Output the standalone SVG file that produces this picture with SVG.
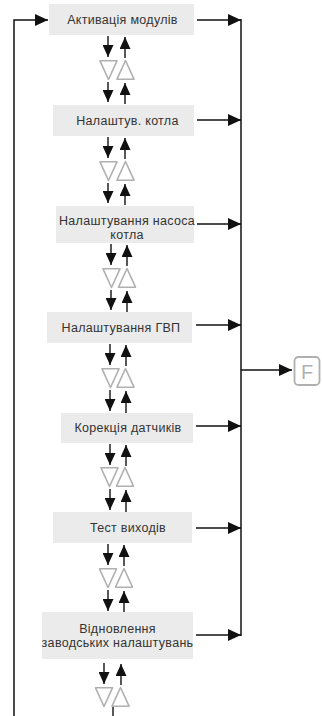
<svg xmlns="http://www.w3.org/2000/svg" width="322" height="716" viewBox="0 0 322 716">
<style>
.box{fill:#ebebeb;stroke:none}
.t{font-family:"Liberation Sans",Arial,sans-serif;font-size:12.5px;letter-spacing:0.3px;fill:#333;text-anchor:middle}
.ln{stroke:#111;stroke-width:1.5;fill:none}
.sm{stroke:#111;stroke-width:1.4;fill:none}
.tri{fill:#fff;stroke:#b0b0b0;stroke-width:1.6;stroke-linejoin:round}
.fk{fill:#fff;stroke:#b0b0b0;stroke-width:1.8}
.ft{font-family:"Liberation Sans",Arial,sans-serif;font-size:20px;fill:#b0b0b0;text-anchor:middle}
</style>
<defs>
<marker id="ab" viewBox="0 0 13 12" refX="13" refY="6" markerWidth="13" markerHeight="12" markerUnits="userSpaceOnUse" orient="auto"><path d="M0,0 L13,6 L0,12 Z" fill="#111"/></marker>
<marker id="as" viewBox="0 0 12 11" refX="12" refY="5.5" markerWidth="12" markerHeight="11" markerUnits="userSpaceOnUse" orient="auto"><path d="M0,0 L12,5.5 L0,11 Z" fill="#111"/></marker>
<path id="td" d="M-8.5,0.8 H8.5 L0,19.5 Z"/>
<path id="tu" d="M0,0.5 L8.5,19.2 H-8.5 Z"/>
</defs>

<g id="connectors">
<polyline class="ln" points="14,716 14,20 48,20" marker-end="url(#ab)"/>
<line class="ln" x1="241" y1="19" x2="241" y2="636"/>
<line class="ln" x1="197" y1="20" x2="241" y2="20" marker-end="url(#ab)"/>
<line class="ln" x1="197" y1="120" x2="241" y2="120" marker-end="url(#ab)"/>
<line class="ln" x1="197" y1="224" x2="241" y2="224" marker-end="url(#ab)"/>
<line class="ln" x1="196" y1="325" x2="241" y2="325" marker-end="url(#ab)"/>
<line class="ln" x1="196" y1="426" x2="241" y2="426" marker-end="url(#ab)"/>
<line class="ln" x1="196" y1="528" x2="241" y2="528" marker-end="url(#ab)"/>
<line class="ln" x1="196" y1="635" x2="241" y2="635" marker-end="url(#ab)"/>
<line class="ln" x1="241" y1="370" x2="292" y2="370" marker-end="url(#ab)"/>

<g id="gap1">
<line class="sm" x1="108" y1="36" x2="108" y2="57" marker-end="url(#as)"/>
<line class="sm" x1="125" y1="58" x2="125" y2="37" marker-end="url(#as)"/>
<use href="#td" class="tri" x="108.5" y="60"/><use href="#tu" class="tri" x="125.5" y="60"/>
<line class="sm" x1="108" y1="82" x2="108" y2="102" marker-end="url(#as)"/>
<line class="sm" x1="125" y1="104" x2="125" y2="83" marker-end="url(#as)"/>
</g>
<g id="gap2">
<line class="sm" x1="108" y1="137" x2="108" y2="158" marker-end="url(#as)"/>
<line class="sm" x1="125" y1="159" x2="125" y2="138" marker-end="url(#as)"/>
<use href="#td" class="tri" x="108.5" y="161"/><use href="#tu" class="tri" x="125.5" y="161"/>
<line class="sm" x1="108" y1="183" x2="108" y2="203" marker-end="url(#as)"/>
<line class="sm" x1="125" y1="205" x2="125" y2="184" marker-end="url(#as)"/>
</g>
<g id="gap3">
<line class="sm" x1="111" y1="244" x2="111" y2="265" marker-end="url(#as)"/>
<line class="sm" x1="127" y1="266" x2="127" y2="245" marker-end="url(#as)"/>
<use href="#td" class="tri" x="111.5" y="268"/><use href="#tu" class="tri" x="127" y="268"/>
<line class="sm" x1="111" y1="290" x2="111" y2="310" marker-end="url(#as)"/>
<line class="sm" x1="127" y1="312" x2="127" y2="291" marker-end="url(#as)"/>
</g>
<g id="gap4">
<line class="sm" x1="110" y1="344" x2="110" y2="365" marker-end="url(#as)"/>
<line class="sm" x1="126" y1="366" x2="126" y2="345" marker-end="url(#as)"/>
<use href="#td" class="tri" x="110.5" y="368"/><use href="#tu" class="tri" x="125.5" y="368"/>
<line class="sm" x1="110" y1="390" x2="110" y2="411" marker-end="url(#as)"/>
<line class="sm" x1="126" y1="413" x2="126" y2="391" marker-end="url(#as)"/>
</g>
<g id="gap5">
<line class="sm" x1="110" y1="444" x2="110" y2="465" marker-end="url(#as)"/>
<line class="sm" x1="126" y1="466" x2="126" y2="445" marker-end="url(#as)"/>
<use href="#td" class="tri" x="109.5" y="467"/><use href="#tu" class="tri" x="125" y="467"/>
<line class="sm" x1="110" y1="489" x2="110" y2="510" marker-end="url(#as)"/>
<line class="sm" x1="126" y1="512" x2="126" y2="490" marker-end="url(#as)"/>
</g>
<g id="gap6">
<line class="sm" x1="108" y1="544" x2="108" y2="565" marker-end="url(#as)"/>
<line class="sm" x1="124" y1="566" x2="124" y2="545" marker-end="url(#as)"/>
<use href="#td" class="tri" x="108" y="568"/><use href="#tu" class="tri" x="124" y="568"/>
<line class="sm" x1="108" y1="590" x2="108" y2="611" marker-end="url(#as)"/>
<line class="sm" x1="124" y1="612" x2="124" y2="591" marker-end="url(#as)"/>
</g>
<g id="gap7">
<line class="sm" x1="104" y1="663" x2="104" y2="684" marker-end="url(#as)"/>
<line class="sm" x1="121" y1="685" x2="121" y2="664" marker-end="url(#as)"/>
<use href="#td" class="tri" x="104" y="687"/><use href="#tu" class="tri" x="120.5" y="687"/>
<line class="sm" x1="113" y1="707" x2="113" y2="716"/>
</g>
</g>

<g id="n1"><rect class="box" x="49" y="4" width="145" height="31"/><text class="t" x="122.5" y="24">Активація модулів</text></g>
<g id="n2"><rect class="box" x="53" y="105" width="141" height="31"/><text class="t" x="127.5" y="125">Налаштув. котла</text></g>
<g id="n3"><rect class="box" x="56" y="206" width="138" height="37"/><text class="t" x="127" y="225">Налаштування насоса</text><text class="t" x="127" y="239">котла</text></g>
<g id="n4"><rect class="box" x="47" y="312" width="145" height="31"/><text class="t" x="121" y="332">Налаштування ГВП</text></g>
<g id="n5"><rect class="box" x="61" y="413" width="132" height="30"/><text class="t" x="128" y="432">Корекція датчиків</text></g>
<g id="n6"><rect class="box" x="53" y="512" width="139" height="31"/><text class="t" x="128" y="532">Тест виходів</text></g>
<g id="n7"><rect class="box" x="42" y="612" width="151" height="47"/><text class="t" x="117.5" y="633">Відновлення</text><text class="t" x="117.5" y="647">заводських налаштувань</text></g>
<g id="nF"><rect class="fk" x="294.5" y="357" width="25" height="28" rx="4"/><text class="ft" x="307" y="378.5">F</text></g>
</svg>
